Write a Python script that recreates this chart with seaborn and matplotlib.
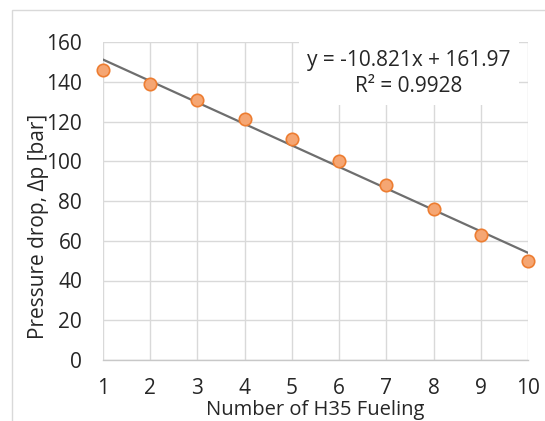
import matplotlib
matplotlib.use("Agg")
import matplotlib.pyplot as plt
import seaborn as sns
import numpy as np
import pandas as pd
from matplotlib.patches import Rectangle

fuelings = [1, 2, 3, 4, 5, 6, 7, 8, 9, 10]
pressure_drop = [146, 139, 131, 121.5, 111, 100, 88, 76, 63, 50]
y_ticks = [0, 20, 40, 60, 80, 100, 120, 140, 160]
x_ticks = [1, 2, 3, 4, 5, 6, 7, 8, 9, 10]
equation_text = "y = -10.821x + 161.97\nR² = 0.9928"

df = pd.DataFrame({"x": fuelings, "y": pressure_drop})

sns.set_theme(style="white")
plt.rcParams["font.family"] = ["Open Sans", "DejaVu Sans"]

fig = plt.figure(figsize=(5.45, 4.21), dpi=100)
ax = fig.add_axes([103/545, 1-360/421, (528-103)/545, (360-42)/421])

# outer chart frame
fig.patches.append(Rectangle((12/545, -0.1), 1.2, (421-10)/421 + 0.1,
                             transform=fig.transFigure, fill=False,
                             edgecolor="#D9D9D9", linewidth=1.0, zorder=0))

sns.regplot(data=df, x="x", y="y", ax=ax, scatter=False, ci=None, truncate=True,
            line_kws=dict(color="#6E6E6E", linewidth=1.6, zorder=3))
sns.scatterplot(data=df, x="x", y="y", ax=ax, s=80, color="#F5A673",
                edgecolor="#ED7D31", linewidth=1.2, zorder=4, clip_on=False)

ax.set_xlim(1, 10)
ax.set_ylim(0, 160)
ax.set_xticks(x_ticks)
ax.set_yticks(y_ticks)
ax.grid(True, color="#D9D9D9", linewidth=1.0)
ax.set_axisbelow(True)
for s in ["top", "right", "left"]:
    ax.spines[s].set_visible(False)
ax.spines["bottom"].set_color("#C8C8C8")
ax.spines["bottom"].set_linewidth(1.0)
ax.tick_params(axis="both", length=0, labelsize=15, colors="#262626")
ax.tick_params(axis="x", pad=13)
ax.tick_params(axis="y", pad=15)

ax.set_xlabel("Number of H35 Fueling", fontsize=14.5, color="#262626", labelpad=1)
ax.set_ylabel("Pressure drop, Δp [bar]", fontsize=15, color="#262626")
ax.yaxis.set_label_coords(-0.128, 0.42)

ax.text(0.72, 0.975, equation_text, transform=ax.transAxes, ha="center", va="top",
        fontsize=15, color="#262626", linespacing=1.3, zorder=5,
        bbox=dict(facecolor="white", edgecolor="none", pad=6))

fig.savefig("out.png", dpi=100)
